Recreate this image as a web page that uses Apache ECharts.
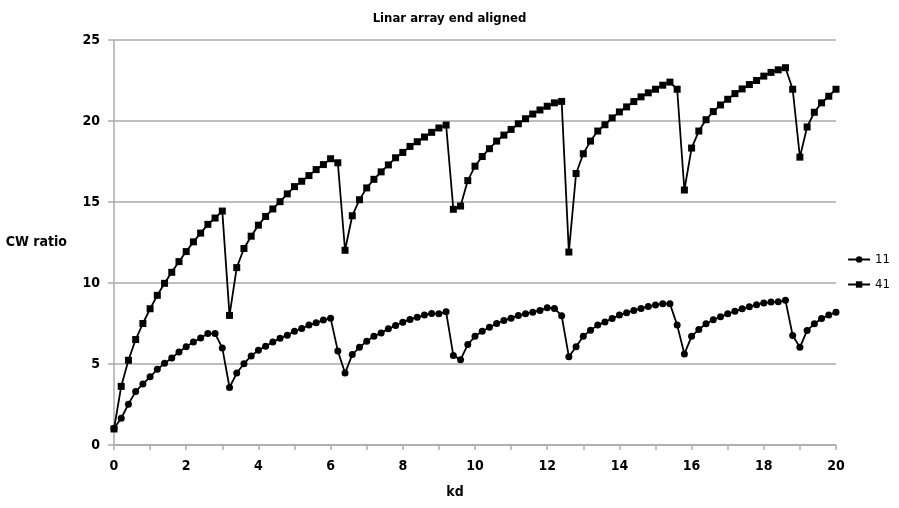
<!DOCTYPE html>
<html>
<head>
<meta charset="utf-8">
<script src="https://cdn.jsdelivr.net/npm/echarts@6/dist/echarts.min.js"></script>
<style>
html,body{margin:0;padding:0;background:#fff;}
#chart{width:899px;height:508px;}
</style>
</head>
<body>
<div id="chart"></div>
<script>
const titleText = "Linar array end aligned";
const xName = "kd";
const yName = "CW ratio";
const seriesNames = ["11", "41"];
// kd values 0, 0.2, ..., 20
const kd = [0,0.2,0.4,0.6,0.8,1,1.2,1.4,1.6,1.8,2,2.2,2.4,2.6,2.8,3,3.2,3.4,3.6,3.8,4,4.2,4.4,4.6,4.8,5,5.2,5.4,5.6,5.8,6,6.2,6.4,6.6,6.8,7,7.2,7.4,7.6,7.8,8,8.2,8.4,8.6,8.8,9,9.2,9.4,9.6,9.8,10,10.2,10.4,10.6,10.8,11,11.2,11.4,11.6,11.8,12,12.2,12.4,12.6,12.8,13,13.2,13.4,13.6,13.8,14,14.2,14.4,14.6,14.8,15,15.2,15.4,15.6,15.8,16,16.2,16.4,16.6,16.8,17,17.2,17.4,17.6,17.8,18,18.2,18.4,18.6,18.8,19,19.2,19.4,19.6,19.8,20];
const s11 = [1.03,1.65,2.52,3.31,3.76,4.21,4.67,5.04,5.37,5.74,6.07,6.36,6.61,6.88,6.88,5.99,3.55,4.44,5.02,5.50,5.85,6.10,6.36,6.59,6.78,7.02,7.19,7.40,7.54,7.71,7.83,5.81,4.44,5.58,6.03,6.40,6.71,6.92,7.17,7.38,7.58,7.75,7.89,8.02,8.12,8.10,8.22,5.52,5.27,6.20,6.71,7.02,7.27,7.50,7.69,7.83,8.00,8.10,8.20,8.31,8.47,8.43,7.98,5.45,6.06,6.71,7.09,7.40,7.60,7.81,8.02,8.16,8.31,8.43,8.55,8.64,8.72,8.72,7.40,5.62,6.71,7.13,7.48,7.73,7.91,8.10,8.26,8.41,8.53,8.66,8.76,8.82,8.84,8.93,6.76,6.03,7.07,7.48,7.81,8.02,8.20];
const s41 = [0.99,3.62,5.23,6.51,7.50,8.41,9.24,9.98,10.66,11.32,11.94,12.54,13.08,13.62,14.01,14.44,8.00,10.95,12.13,12.89,13.57,14.11,14.57,15.02,15.50,15.95,16.28,16.63,17.00,17.31,17.67,17.42,12.02,14.15,15.14,15.87,16.40,16.86,17.29,17.73,18.06,18.43,18.72,19.01,19.30,19.57,19.75,14.55,14.75,16.32,17.21,17.81,18.29,18.76,19.13,19.48,19.83,20.14,20.43,20.68,20.91,21.12,21.21,11.91,16.76,17.98,18.76,19.38,19.77,20.19,20.56,20.87,21.20,21.49,21.74,21.96,22.21,22.40,21.96,15.74,18.33,19.38,20.08,20.58,20.99,21.34,21.69,21.98,22.25,22.50,22.77,23.00,23.16,23.29,21.96,17.77,19.63,20.54,21.12,21.53,21.96];

const FONT = "'Liberation Sans Narrow','DejaVu Sans Condensed','Open Sans',sans-serif";
const chart = echarts.init(document.getElementById('chart'), null, {renderer:'canvas'});
const pair = (ys) => kd.map((x, i) => [x, ys[i]]);
chart.setOption({
  animation: false,
  backgroundColor: '#fff',
  title: {
    text: titleText, left: 'center', top: 7,
    textStyle: {fontFamily: FONT, fontSize: 13, fontWeight: 'bold', color: '#000'}
  },
  legend: {
    orient: 'vertical', right: 4, top: 248, itemGap: 12,
    itemWidth: 22, itemHeight: 8,
    textStyle: {fontFamily: FONT, fontSize: 13, color: '#000'},
    data: seriesNames
  },
  grid: {left: 114, right: 63, top: 40, bottom: 63},
  xAxis: {
    type: 'value', min: 0, max: 20, interval: 1,
    name: xName, nameLocation: 'middle', nameGap: 40,
    nameTextStyle: {fontFamily: FONT, fontSize: 14, fontWeight: 'bold', color: '#000', padding: [0, 40, 0, 0]},
    axisLine: {show: true, onZero: false, lineStyle: {color: '#aaa', width: 1.5}},
    axisTick: {show: true, length: 5, lineStyle: {color: '#aaa', width: 1.5}},
    axisLabel: {margin: 14, fontFamily: FONT, fontSize: 14, fontWeight: 'bold', color: '#000',
      formatter: v => (Math.round(v) % 2 === 0 ? String(v) : '')},
    splitLine: {show: false}
  },
  yAxis: {
    type: 'value', min: 0, max: 25, interval: 5,
    name: yName, nameLocation: 'middle', nameGap: 47, nameRotate: 0,
    nameTextStyle: {fontFamily: FONT, fontSize: 14, fontWeight: 'bold', color: '#000'},
    axisLine: {show: true, lineStyle: {color: '#aaa', width: 1.5}},
    axisTick: {show: true, length: 6, lineStyle: {color: '#aaa', width: 1.5}},
    axisLabel: {margin: 14, fontFamily: FONT, fontSize: 14, fontWeight: 'bold', color: '#000'},
    splitLine: {show: true, lineStyle: {color: '#aaa', width: 1.5}}
  },
  series: [
    {name: seriesNames[0], type: 'line', data: pair(s11), symbol: 'circle', symbolSize: 7,
     itemStyle: {color: '#000'}, lineStyle: {color: '#000', width: 1.8}},
    {name: seriesNames[1], type: 'line', data: pair(s41), symbol: 'rect', symbolSize: 7,
     itemStyle: {color: '#000'}, lineStyle: {color: '#000', width: 1.8}}
  ]
});
</script>
</body>
</html>
